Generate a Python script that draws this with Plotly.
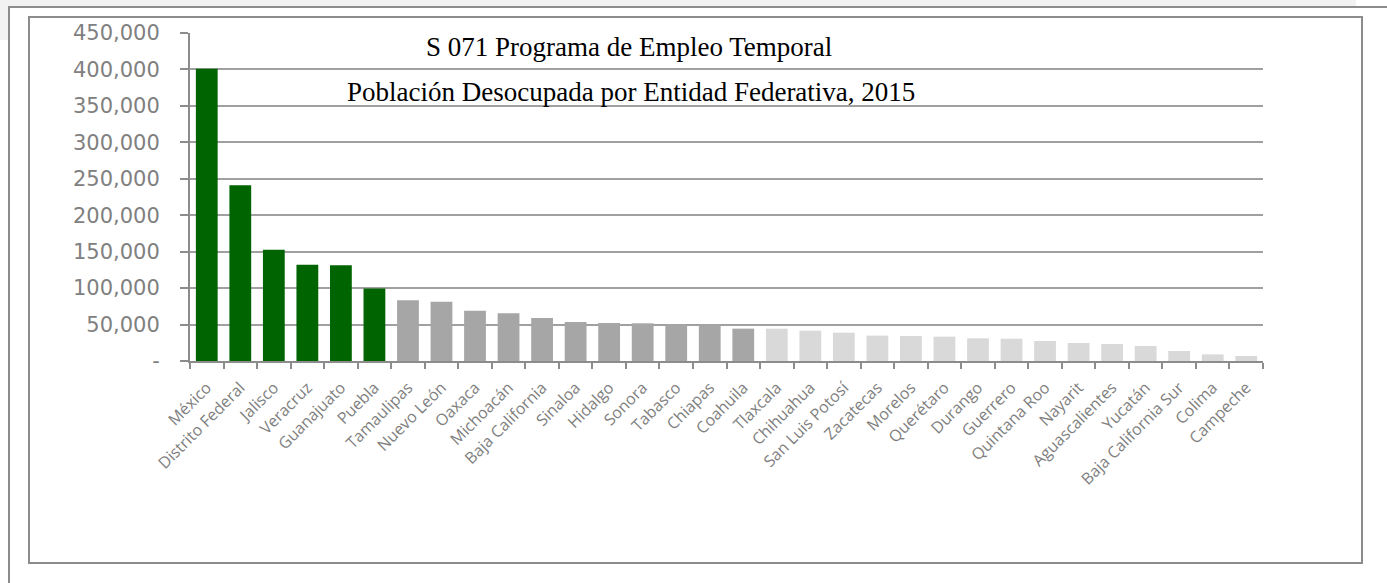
import plotly.graph_objects as go

# ---------------- data ----------------
categorias = [
    "México", "Distrito Federal", "Jalisco", "Veracruz", "Guanajuato", "Puebla",
    "Tamaulipas", "Nuevo León", "Oaxaca", "Michoacán", "Baja California", "Sinaloa",
    "Hidalgo", "Sonora", "Tabasco", "Chiapas", "Coahuila", "Tlaxcala", "Chihuahua",
    "San Luis Potosí", "Zacatecas", "Morelos", "Querétaro", "Durango", "Guerrero",
    "Quintana Roo", "Nayarit", "Aguascalientes", "Yucatán", "Baja California Sur",
    "Colima", "Campeche",
]
poblacion_desocupada = [
    401000, 241000, 152500, 132000, 131300, 99300,
    83200, 81400, 69000, 65400, 59000, 53500,
    52100, 51700, 50000, 50000, 44400, 44300, 41600,
    38900, 34800, 34300, 33400, 31100, 30600,
    27400, 24700, 23300, 20600, 13700,
    9100, 6900,
]
grupo = [
    "alto", "alto", "alto", "alto", "alto", "alto",
    "medio", "medio", "medio", "medio", "medio", "medio",
    "medio", "medio", "medio", "medio", "medio", "bajo", "bajo",
    "bajo", "bajo", "bajo", "bajo", "bajo", "bajo",
    "bajo", "bajo", "bajo", "bajo", "bajo",
    "bajo", "bajo",
]
y_tickvals = [0, 50000, 100000, 150000, 200000, 250000, 300000, 350000, 400000, 450000]
y_ticktext = ["-", "50,000", "100,000", "150,000", "200,000", "250,000",
              "300,000", "350,000", "400,000", "450,000"]
titulo_1 = "S 071 Programa de Empleo Temporal"
titulo_2 = "Población Desocupada por Entidad Federativa, 2015"

# ---------------- style ----------------
colores_grupo = {"alto": "#006400", "medio": "#a6a6a6", "bajo": "#d9d9d9"}
colores = [colores_grupo[g] for g in grupo]

W, H = 1387, 583
ML, MR, MT, MB = 190, 124, 33, 222
PW, PH = W - ML - MR, H - MT - MB


def px_x(px):
    return (px - ML) / PW


def px_y(py):
    return (H - MB - py) / PH


axis_gray = "#8c8c8c"
label_gray = "#808080"

fig = go.Figure(
    go.Bar(
        x=categorias,
        y=poblacion_desocupada,
        marker=dict(color=colores, line=dict(width=0)),
        hoverinfo="x+y",
    )
)

shapes = [
    # light gray page background strips
    dict(type="rect", xref="paper", yref="paper", x0=px_x(0), x1=px_x(1356),
         y0=px_y(6.5), y1=px_y(0), fillcolor="#f2f2f2", line=dict(width=0), layer="below"),
    dict(type="rect", xref="paper", yref="paper", x0=px_x(0), x1=px_x(8),
         y0=px_y(40), y1=px_y(0), fillcolor="#f2f2f2", line=dict(width=0), layer="below"),
    # outer frame lines
    dict(type="line", xref="paper", yref="paper", x0=px_x(8), x1=px_x(1387),
         y0=px_y(7), y1=px_y(7), line=dict(color=axis_gray, width=2)),
    dict(type="line", xref="paper", yref="paper", x0=px_x(9), x1=px_x(9),
         y0=px_y(7), y1=px_y(583), line=dict(color=axis_gray, width=2)),
    # inner chart box
    dict(type="rect", xref="paper", yref="paper", x0=px_x(29), x1=px_x(1362),
         y0=px_y(563), y1=px_y(17), line=dict(color=axis_gray, width=2),
         fillcolor="rgba(0,0,0,0)", layer="below"),
]

annotations = [
    dict(text=titulo_1, xref="paper", yref="paper", x=px_x(629), y=px_y(47),
         xanchor="center", yanchor="middle", showarrow=False,
         font=dict(family="Liberation Serif", size=27, color="#000000")),
    dict(text=titulo_2, xref="paper", yref="paper", x=px_x(631), y=px_y(92),
         xanchor="center", yanchor="middle", showarrow=False,
         font=dict(family="Liberation Serif", size=27, color="#000000")),
]

fig.update_layout(
    width=W, height=H, autosize=False,
    margin=dict(l=ML, r=MR, t=MT, b=MB, pad=0),
    paper_bgcolor="white", plot_bgcolor="white",
    bargap=0.35,
    showlegend=False,
    shapes=shapes,
    annotations=annotations,
    xaxis=dict(
        type="category", range=[-0.5, len(categorias) - 0.5],
        tickangle=-45, tickfont=dict(family="Open Sans", size=16, color=label_gray),
        showline=True, linecolor=axis_gray, linewidth=2,
        ticks="outside", tickson="boundaries", ticklen=6, tickwidth=2, tickcolor=axis_gray,
        ticklabelstandoff=9,
        showgrid=False, zeroline=False,
    ),
    yaxis=dict(
        range=[0, 450000], tickvals=y_tickvals, ticktext=y_ticktext,
        tickfont=dict(family="DejaVu Sans", size=21, color=label_gray),
        showgrid=True, gridcolor="#a0a0a0", gridwidth=2,
        showline=True, linecolor=axis_gray, linewidth=2,
        ticks="outside", ticklen=8, tickwidth=2, tickcolor=axis_gray,
        ticklabelstandoff=16, zeroline=False,
    ),
)

fig.write_html(
    "out.html",
    config={"displayModeBar": False},
    post_script="document.body.style.margin='0px';document.body.style.overflow='hidden';",
)
